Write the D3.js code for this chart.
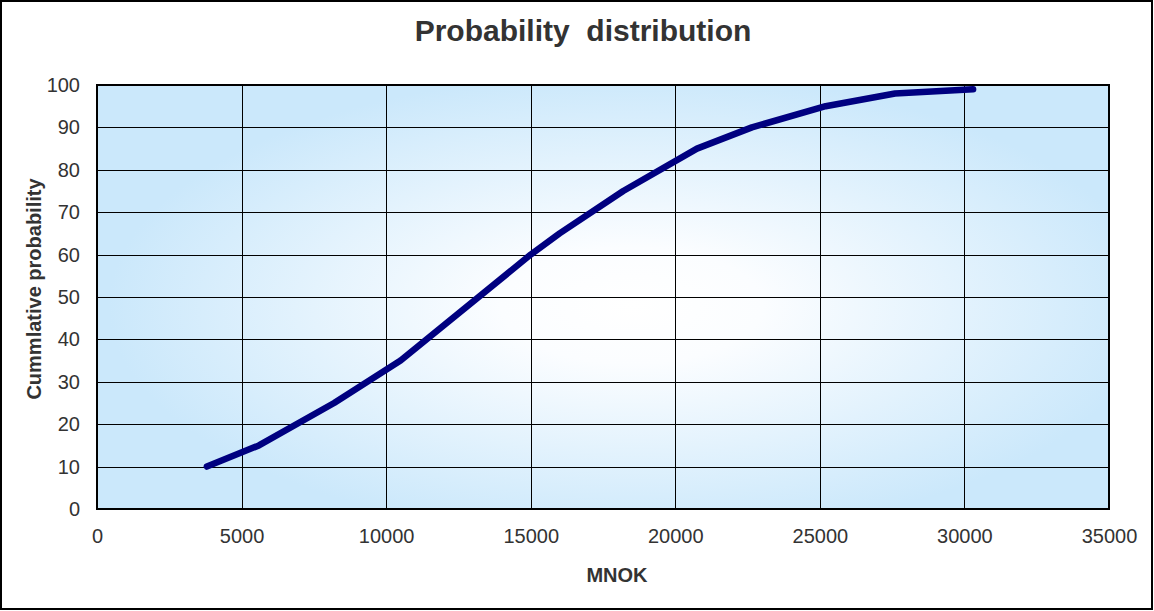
<!DOCTYPE html>
<html>
<head>
<meta charset="utf-8">
<script src="https://cdn.jsdelivr.net/npm/d3@7"></script>
<style>
  html, body { margin: 0; padding: 0; background: #fff; }
  svg { display: block; }
  text { font-family: "Liberation Sans", Arial, sans-serif; }
</style>
</head>
<body>
<svg id="chart" width="1154" height="611"></svg>
<script>
// ---- data ----
const mnok = [3800, 5600, 8200, 10500, 15000, 16000, 18200, 20750, 22650, 25200, 27600, 30300];
const cumProb = [10, 15, 25, 35, 60, 65, 75, 85, 90, 95, 98, 99];
const xTicks = [0, 5000, 10000, 15000, 20000, 25000, 30000, 35000];
const yTicks = [0, 10, 20, 30, 40, 50, 60, 70, 80, 90, 100];
const titleText = "Probability  distribution";
const xTitle = "MNOK";
const yTitle = "Cummlative probability";

const W = 1154, H = 611;
const m = { left: 97, right: 1109, top: 85, bottom: 509 };
const svg = d3.select("#chart");

// outer frame
svg.append("rect").attr("x", 1).attr("y", 1).attr("width", W - 3).attr("height", H - 3)
  .attr("fill", "#fff").attr("stroke", "#000").attr("stroke-width", 2);

const x = d3.scaleLinear().domain([0, 35000]).range([m.left, m.right]);
const y = d3.scaleLinear().domain([0, 100]).range([m.bottom, m.top]);

// gradient background
const defs = svg.append("defs");
const grad = defs.append("radialGradient").attr("id", "bg")
  .attr("cx", "0.53").attr("cy", "0.52").attr("r", "0.55")
  .attr("gradientTransform", "translate(0.03,0) scale(0.94,1)");
grad.append("stop").attr("offset", "0%").attr("stop-color", "#ffffff");
grad.append("stop").attr("offset", "25%").attr("stop-color", "#fbfdff");
grad.append("stop").attr("offset", "100%").attr("stop-color", "#cbe8fb");

svg.append("rect").attr("x", m.left).attr("y", m.top)
  .attr("width", m.right - m.left).attr("height", m.bottom - m.top)
  .attr("fill", "url(#bg)");

// grid
const g = svg.append("g");
g.selectAll(".vg").data(xTicks.slice(1, -1)).join("line")
  .attr("x1", d => Math.round(x(d)) + 0.5).attr("x2", d => Math.round(x(d)) + 0.5)
  .attr("y1", m.top).attr("y2", m.bottom).attr("stroke", "#000").attr("stroke-width", 1);
g.selectAll(".hg").data(yTicks.slice(1, -1)).join("line")
  .attr("y1", d => Math.round(y(d)) + 0.5).attr("y2", d => Math.round(y(d)) + 0.5)
  .attr("x1", m.left).attr("x2", m.right).attr("stroke", "#000").attr("stroke-width", 1);

// axes (labels only, via d3 axis)
const xAxis = svg.append("g").attr("transform", `translate(0,${m.bottom})`)
  .call(d3.axisBottom(x).tickValues(xTicks).tickFormat(d3.format("d")).tickSize(0).tickPadding(20));
const yAxis = svg.append("g").attr("transform", `translate(${m.left},0)`)
  .call(d3.axisLeft(y).tickValues(yTicks).tickSize(0).tickPadding(17));
[xAxis, yAxis].forEach(a => {
  a.select(".domain").remove();
  a.selectAll("text").attr("font-size", 20).attr("fill", "#333")
    .attr("font-family", "'Liberation Sans', Arial, sans-serif");
});

// plot border
svg.append("rect").attr("x", m.left).attr("y", m.top)
  .attr("width", m.right - m.left).attr("height", m.bottom - m.top)
  .attr("fill", "none").attr("stroke", "#000").attr("stroke-width", 2);

// line
const pts = mnok.map((v, i) => [v, cumProb[i]]);
svg.append("path").datum(pts)
  .attr("d", d3.line().x(d => x(d[0])).y(d => y(d[1])))
  .attr("fill", "none").attr("stroke", "#000080").attr("stroke-width", 6.5)
  .attr("stroke-linecap", "round").attr("stroke-linejoin", "round");

// titles
svg.append("text").attr("x", 583).attr("y", 41).attr("text-anchor", "middle")
  .style("white-space", "pre")
  .attr("font-size", 30).attr("font-weight", "bold").attr("fill", "#333").text(titleText);
svg.append("text").attr("x", 617).attr("y", 582).attr("text-anchor", "middle")
  .attr("font-size", 20).attr("font-weight", "bold").attr("fill", "#333").text(xTitle);
svg.append("text").attr("transform", "translate(41,289) rotate(-90)").attr("text-anchor", "middle")
  .attr("font-size", 20).attr("font-weight", "bold").attr("fill", "#333").text(yTitle);
</script>
</body>
</html>
